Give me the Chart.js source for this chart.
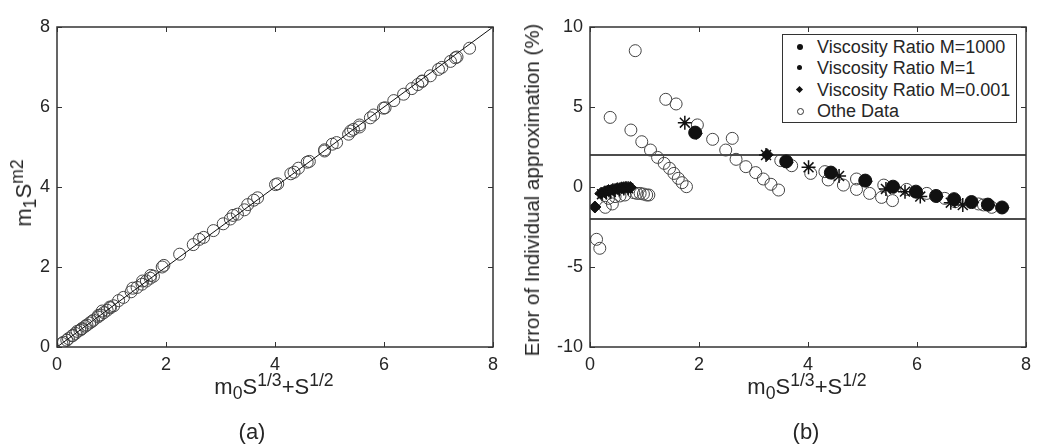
<!DOCTYPE html>
<html>
<head>
<meta charset="utf-8">
<script src="https://cdn.jsdelivr.net/npm/chart.js@4.4.1/dist/chart.umd.min.js"></script>
<style>
  body { margin: 0; background: #fff; }
  #wrap { position: relative; width: 1041px; height: 448px; background: #fff; overflow: hidden;
    font-family: "Liberation Sans", Arial, sans-serif; color: #262626; }
  canvas { position: absolute; top: 0; }
  .lab { position: absolute; white-space: nowrap; font-size: 22px; line-height: 22px; }
  .lab sub, .lab sup { font-size: 0.8em; line-height: 0; vertical-align: baseline; position: relative; }
  .lab sub { top: 0.3em; }
  .lab sup { top: -0.45em; }
  .rot { transform: translate(-50%, -50%) rotate(-90deg); }
  .cx { transform: translateX(-50%); }
  #legend { position: absolute; left: 782px; top: 34px; width: 233px; height: 87px;
    border: 1.5px solid #333; background: #fff; font-size: 18px; }
  #legend div { position: absolute; left: 34px; height: 20px; line-height: 20px; white-space: nowrap; }
  #legend span { position: absolute; left: -20px; top: 7px; width: 6px; height: 6px; background: #111; border-radius: 50%; }
</style>
</head>
<body>
<div id="wrap">
  <canvas id="chartA" width="520" height="448" style="left:0"></canvas>
  <canvas id="chartB" width="521" height="448" style="left:520px"></canvas>

  <div class="lab rot" style="left:24px; top:193px">m<sub>1</sub>S<sup>m2</sup></div>
  <div class="lab cx" style="left:274px; top:376px">m<sub>0</sub>S<sup>1/3</sup>+S<sup>1/2</sup></div>
  <div class="lab cx" style="left:252px; top:421px">(a)</div>

  <div class="lab rot" style="left:532px; top:190px; font-size:20.5px">Error of Individual approximation (%)</div>
  <div class="lab cx" style="left:807px; top:376px">m<sub>0</sub>S<sup>1/3</sup>+S<sup>1/2</sup></div>
  <div class="lab cx" style="left:806px; top:421px">(b)</div>

  <div id="legend">
    <div style="top:2px"><span></span>Viscosity Ratio M=1000</div>
    <div style="top:23px"><span style="width:5px;height:5px"></span>Viscosity Ratio M=1</div>
    <div style="top:45px"><span style="width:5px;height:5px;border-radius:0;transform:rotate(45deg)"></span>Viscosity Ratio M=0.001</div>
    <div style="top:66px"><span style="background:none;border:1px solid #333;width:5px;height:5px"></span>Othe Data</div>
  </div>
</div>

<script>
"use strict";

// panel (a): fitted value vs. correlation value
const leftX = [0.09, 0.12, 0.18, 0.21, 0.28, 0.29, 0.34, 0.37, 0.42, 0.45, 0.46, 0.52, 0.55, 0.6, 0.64,
  0.67, 0.75, 0.76, 0.8, 0.83, 0.86, 0.92, 0.97, 0.98, 1.04, 1.13, 1.22, 1.36, 1.39, 1.47, 1.56, 1.57,
  1.64, 1.71, 1.72, 1.77, 1.93, 1.96, 2.25, 2.5, 2.61, 2.69, 2.87, 3.05, 3.18, 3.23, 3.31, 3.44, 3.5,
  3.61, 3.68, 4.01, 4.05, 4.29, 4.35, 4.43, 4.59, 4.63, 4.91, 4.91, 5.05, 5.13, 5.35, 5.39, 5.44, 5.55,
  5.55, 5.75, 5.81, 5.99, 6.02, 6.18, 6.36, 6.51, 6.62, 6.7, 6.7, 6.85, 7.0, 7.06, 7.22, 7.31, 7.34, 7.57];
const leftY = [0.09, 0.12, 0.17, 0.21, 0.28, 0.29, 0.34, 0.39, 0.42, 0.45, 0.46, 0.52, 0.55, 0.6, 0.64,
  0.67, 0.75, 0.79, 0.8, 0.9, 0.86, 0.92, 1.0, 0.98, 1.03, 1.16, 1.24, 1.38, 1.47, 1.49, 1.57, 1.65,
  1.65, 1.72, 1.79, 1.77, 2.0, 2.04, 2.32, 2.56, 2.69, 2.74, 2.91, 3.08, 3.2, 3.29, 3.32, 3.43, 3.56,
  3.67, 3.73, 4.06, 4.08, 4.33, 4.37, 4.47, 4.62, 4.64, 4.93, 4.9, 5.07, 5.11, 5.32, 5.4, 5.44, 5.55,
  5.5, 5.73, 5.8, 5.97, 5.98, 6.16, 6.32, 6.46, 6.56, 6.64, 6.65, 6.78, 6.94, 6.99, 7.14, 7.23, 7.25, 7.47];
const diagonal = [0, 8];

// panel (b): error in percent
const otherX = [0.12, 0.18, 0.28, 0.34, 0.37, 0.41, 0.46, 0.55, 0.64, 0.75, 0.8, 0.83, 0.86, 0.92, 0.95,
  0.98, 1.04, 1.08, 1.11, 1.24, 1.36, 1.39, 1.46, 1.54, 1.58, 1.62, 1.69, 1.77, 1.97, 2.25, 2.49, 2.61,
  2.68, 2.86, 3.04, 3.18, 3.32, 3.46, 3.5, 3.7, 4.05, 4.31, 4.37, 4.65, 4.89, 4.89, 5.13, 5.35, 5.39,
  5.55, 5.81, 6.18, 6.51, 6.7, 7.13, 7.22, 7.37];
const otherY = [-3.27, -3.83, -1.27, -0.71, 4.35, -1.06, -0.6, -0.56, -0.5, 3.56, -0.35, 8.52, -0.4, -0.4, 2.83,
  -0.44, -0.5, -0.5, 2.31, 1.85, 1.48, 5.48, 1.17, 0.85, 5.19, 0.54, 0.27, 0.02, 3.88, 2.98, 2.31, 3.04,
  1.73, 1.27, 0.9, 0.5, 0.17, -0.19, 1.65, 1.33, 0.85, 0.96, 0.44, 0.12, 0.5, -0.15, -0.4, -0.65, 0.12,
  -0.85, -0.15, -0.4, -0.71, -0.92, -1.06, -1.12, -1.27];

const m1000X = [1.93, 3.6, 4.42, 5.05, 5.56, 5.98, 6.35, 6.68, 7.0, 7.3, 7.56];
const m1000Y = [3.4, 1.6, 0.9, 0.4, 0.02, -0.29, -0.56, -0.76, -0.94, -1.1, -1.28];

const m1X = [0.22, 0.3, 0.38, 0.46, 0.54, 0.62, 0.7, 1.74, 3.23, 4.01, 4.57, 5.43, 5.78, 6.06, 6.62, 6.84];
const m1Y = [-0.45, -0.35, -0.3, -0.2, -0.15, -0.1, -0.08, 4.02, 2.0, 1.23, 0.69, -0.12, -0.29, -0.6, -0.98, -1.13];

const m0001X = [0.09, 0.2, 0.27, 0.34, 0.42, 0.5, 0.58, 0.66, 0.74, 1.95, 3.25, 3.62, 4.44, 5.07, 5.58,
  6.0, 6.37, 6.7, 7.02, 7.32, 7.58];
const m0001Y = [-1.25, -0.4, -0.3, -0.22, -0.15, -0.1, -0.05, -0.02, -0.03, 3.35, 2.02, 1.55, 0.86, 0.36, -0.02,
  -0.33, -0.6, -0.8, -0.97, -1.14, -1.3];

const limitX = [0, 8];
const upperLimit = [2, 2];
const lowerLimit = [-2, -2];

const xTicks = [0, 2, 4, 6, 8];
const leftTicks = [0, 2, 4, 6, 8];
const rightTicks = [-10, -5, 0, 5, 10];

const ink = "#262626";

function toPoints(xs, ys) {
  const pts = [];
  for (let i = 0; i < xs.length; i++) {
    pts.push({ x: xs[i], y: ys[i] });
  }
  return pts;
}

// box around the plot with small inward ticks on every side (matlab style)
const framePlugin = {
  id: "frame",
  afterDraw(chart) {
    const ctx = chart.ctx;
    const a = chart.chartArea;
    const xs = chart.scales.x;
    const ys = chart.scales.y;
    ctx.save();
    ctx.strokeStyle = "#333";
    ctx.lineWidth = 1.5;
    ctx.strokeRect(a.left, a.top, a.right - a.left, a.bottom - a.top);
    ctx.lineWidth = 1;
    ctx.beginPath();
    xs.ticks.forEach(t => {
      const px = Math.round(xs.getPixelForValue(t.value)) + 0.5;
      ctx.moveTo(px, a.bottom); ctx.lineTo(px, a.bottom - 5);
      ctx.moveTo(px, a.top); ctx.lineTo(px, a.top + 5);
    });
    ys.ticks.forEach(t => {
      const py = Math.round(ys.getPixelForValue(t.value)) + 0.5;
      ctx.moveTo(a.left, py); ctx.lineTo(a.left + 5, py);
      ctx.moveTo(a.right, py); ctx.lineTo(a.right - 5, py);
    });
    ctx.stroke();
    ctx.restore();
  }
};

function makeScales(yTicks, yWidth) {
  return {
    x: {
      type: "linear", min: xTicks[0], max: xTicks[xTicks.length - 1],
      afterBuildTicks: s => { s.ticks = xTicks.map(v => ({ value: v })); },
      afterFit: s => { s.height = 101; },
      grid: { display: false, drawTicks: false },
      border: { display: false },
      ticks: { color: ink, font: { family: "Liberation Sans", size: 18 }, padding: 7, maxRotation: 0 }
    },
    y: {
      type: "linear", min: yTicks[0], max: yTicks[yTicks.length - 1],
      afterBuildTicks: s => { s.ticks = yTicks.map(v => ({ value: v })); },
      afterFit: s => { s.width = yWidth; },
      grid: { display: false, drawTicks: false },
      border: { display: false },
      ticks: { color: ink, font: { family: "Liberation Sans", size: 18 }, padding: 7 }
    }
  };
}

const baseOptions = {
  responsive: false,
  animation: false,
  devicePixelRatio: 1,
  plugins: { legend: { display: false }, tooltip: { enabled: false } }
};

new Chart(document.getElementById("chartA"), {
  type: "scatter",
  data: {
    datasets: [
      {
        data: toPoints(diagonal, diagonal), showLine: true, pointRadius: 0,
        borderColor: "#111", borderWidth: 1
      },
      {
        data: toPoints(leftX, leftY), pointStyle: "circle", pointRadius: 6,
        borderColor: "#444", borderWidth: 1, backgroundColor: "rgba(0,0,0,0)"
      }
    ]
  },
  options: Object.assign({}, baseOptions, {
    layout: { padding: { top: 27, right: 27, left: 0, bottom: 0 } },
    scales: makeScales(leftTicks, 57)
  }),
  plugins: [framePlugin]
});

new Chart(document.getElementById("chartB"), {
  type: "scatter",
  data: {
    datasets: [
      {
        label: "Viscosity Ratio M=1000",
        data: toPoints(m1000X, m1000Y), pointStyle: "circle", pointRadius: 6.5,
        borderColor: "#111", borderWidth: 1, backgroundColor: "#111"
      },
      {
        label: "Viscosity Ratio M=1",
        data: toPoints(m1X, m1Y), pointStyle: "star", pointRadius: 7,
        borderColor: "#111", borderWidth: 1.5, backgroundColor: "#111"
      },
      {
        label: "Viscosity Ratio M=0.001",
        data: toPoints(m0001X, m0001Y), pointStyle: "rectRot", pointRadius: 6,
        borderColor: "#111", borderWidth: 1, backgroundColor: "#111"
      },
      {
        label: "Othe Data",
        data: toPoints(otherX, otherY), pointStyle: "circle", pointRadius: 6,
        borderColor: "#444", borderWidth: 1, backgroundColor: "rgba(0,0,0,0)"
      },
      {
        data: toPoints(limitX, upperLimit), showLine: true, pointRadius: 0,
        borderColor: "#111", borderWidth: 1.5
      },
      {
        data: toPoints(limitX, lowerLimit), showLine: true, pointRadius: 0,
        borderColor: "#111", borderWidth: 1.5
      }
    ]
  },
  options: Object.assign({}, baseOptions, {
    layout: { padding: { top: 27, right: 15, left: 0, bottom: 0 } },
    scales: makeScales(rightTicks, 70)
  }),
  plugins: [framePlugin]
});
</script>
</body>
</html>
